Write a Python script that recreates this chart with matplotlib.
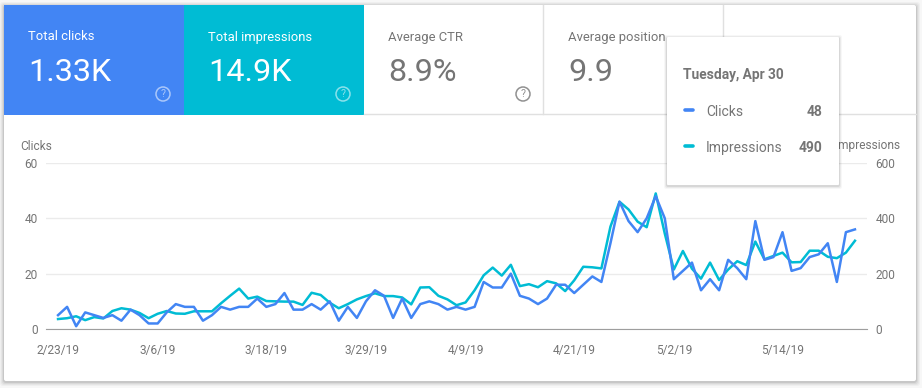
import pandas as pd
import matplotlib
matplotlib.use("Agg")
import matplotlib.pyplot as plt
from matplotlib.patches import FancyBboxPatch, Rectangle, Circle

plt.rcParams['font.family'] = ['Roboto', 'DejaVu Sans']

BLUE = '#4285F4'
TEAL = '#00BCD4'
GREY = '#757575'

clicks = [5, 8, 1, 6, 5, 4, 5, 3, 7, 5, 2, 2, 6, 9, 8, 8, 3, 5, 8, 7, 8, 8, 11, 8, 9, 13, 7, 7, 9, 7,
          10, 3, 8, 4, 10, 14, 12, 4, 11, 4, 9, 10, 9, 7, 8, 7, 8, 17, 15, 15, 20, 12, 11, 9, 11, 16, 16, 13, 16, 19,
          17, 31, 46, 39, 35, 40, 48, 40, 18, 21, 24, 14, 18, 14, 25, 22, 18, 39, 25, 26, 35, 21, 22, 26, 27, 31, 17, 35, 36]
impressions = [36, 39, 46, 32, 43, 38, 65, 75, 70, 58, 39, 55, 65, 56, 55, 64, 64, 64, 93, 120, 146, 110, 117, 101, 100, 99, 99, 87, 131, 123,
               95, 75, 90, 107, 119, 129, 119, 119, 114, 89, 150, 151, 120, 107, 86, 96, 140, 194, 222, 193, 232, 155, 162, 151, 173, 165, 137, 176, 225, 223,
               219, 370, 460, 432, 388, 368, 490, 345, 215, 282, 218, 182, 240, 177, 215, 245, 231, 316, 252, 264, 276, 241, 242, 283, 283, 261, 256, 276, 319]
dates = pd.date_range('2019-02-23', periods=len(clicks))

tick_dates = ['2019-02-23', '2019-03-06', '2019-03-18', '2019-03-29', '2019-04-09', '2019-04-21', '2019-05-02', '2019-05-14']
tick_labels = ['2/23/19', '3/6/19', '3/18/19', '3/29/19', '4/9/19', '4/21/19', '5/2/19', '5/14/19']
clicks_ticks = [0, 20, 40, 60]
impr_ticks = [0, 200, 400, 600]

W, H = 922, 388
fig = plt.figure(figsize=(W / 100, H / 100), dpi=100, facecolor='#f7f7f7')

# card and tiles, in pixel coordinates
bg = fig.add_axes([0, 0, 1, 1], zorder=0)
bg.set_xlim(0, W)
bg.set_ylim(H, 0)
bg.axis('off')

for grow, a in [(4, 0.03), (3, 0.04), (2, 0.05), (1, 0.08)]:
    bg.add_patch(FancyBboxPatch((4 - grow, 5 - grow + 1), 912 + 2 * grow, 376 + 2 * grow,
                                boxstyle='round,pad=0,rounding_size=3', fc='black', ec='none', alpha=a))
bg.add_patch(FancyBboxPatch((4, 5), 912, 376, boxstyle='round,pad=0,rounding_size=2', fc='white', ec='none'))
bg.add_patch(Rectangle((4, 5), 180, 110, fc=BLUE, ec='none'))
bg.add_patch(Rectangle((184, 5), 180, 110, fc=TEAL, ec='none'))
bg.plot([364, 916], [114, 114], color='#e0e0e0', lw=1)
bg.plot([543, 543], [5, 114], color='#e0e0e0', lw=1)
bg.plot([723, 723], [5, 114], color='#e0e0e0', lw=1)

tiles = [(28, 'Total clicks', '1.33K', 'white'), (208, 'Total impressions', '14.9K', 'white'),
         (388, 'Average CTR', '8.9%', GREY), (568, 'Average position', '9.9', GREY)]
for x, name, value, col in tiles:
    bg.text(x, 37, name, color=col, fontsize=9.4, va='center', ha='left')
    bg.text(x, 72.5, value, color=col, fontsize=23.3, va='center', ha='left')

for x, col, a in [(163, 'white', 0.55), (343, 'white', 0.55), (523, '#757575', 0.8)]:
    bg.add_patch(Circle((x, 94), 7, fc='none', ec=col, lw=1.1, alpha=a))
    bg.text(x, 94.3, '?', color=col, alpha=a, fontsize=7.5, ha='center', va='center')

bg.text(20.5, 146, 'Clicks', color=GREY, fontsize=8.6, va='center', ha='left')
bg.text(900, 146, 'Impressions', color=GREY, fontsize=8.6, va='center', ha='right')

# chart
ax = fig.add_axes([46 / W, 1 - 329 / H, 821 / W, 166 / H], zorder=2)
ax2 = ax.twinx()
ax.set_zorder(3)
ax2.set_zorder(2)
ax.patch.set_visible(False)
ax2.patch.set_visible(False)

ax2.plot(dates, impressions, color=TEAL, lw=1.8)
ax.plot(dates, clicks, color=BLUE, lw=1.8)

pad = pd.Timedelta(days=1.33)
ax.set_xlim(dates[0] - pad, dates[-1] + pad)
ax.set_ylim(0, 60)
ax2.set_ylim(0, 600)
ax.set_yticks(clicks_ticks)
ax2.set_yticks(impr_ticks)
ax.set_xticks(pd.to_datetime(tick_dates))
ax.set_xticklabels(tick_labels)
# grid goes on the lower axes so it stays behind both lines
ax2.grid(axis='y', color='#ebebeb', lw=1)
ax2.set_axisbelow(True)
ax.tick_params(axis='both', length=0, labelcolor=GREY, labelsize=8.6)
ax.tick_params(axis='x', pad=11)
ax.tick_params(axis='y', pad=6)
ax2.tick_params(axis='y', length=0, labelcolor=GREY, labelsize=8.6, pad=6)
for a in (ax, ax2):
    for s in ['top', 'left', 'right']:
        a.spines[s].set_visible(False)
ax.spines['bottom'].set_color('#9e9e9e')
ax2.spines['bottom'].set_visible(False)

# tooltip on top of everything
top = fig.add_axes([0, 0, 1, 1], zorder=5)
top.set_xlim(0, W)
top.set_ylim(H, 0)
top.axis('off')
top.patch.set_visible(False)
for grow, a in [(3, 0.03), (2, 0.05), (1, 0.08)]:
    top.add_patch(FancyBboxPatch((667 - grow, 37 - grow + 1), 172 + 2 * grow, 148 + 2 * grow,
                                 boxstyle='round,pad=0,rounding_size=2', fc='black', ec='none', alpha=a))
top.add_patch(FancyBboxPatch((667, 37), 172, 148, boxstyle='round,pad=0,rounding_size=1', fc='white', ec='none'))
top.text(683, 75.5, 'Tuesday, Apr 30', color=GREY, fontsize=9.9, fontweight='bold', va='center', ha='left')
for y, name, num, col in [(112, 'Clicks', '48', BLUE), (148, 'Impressions', '490', TEAL)]:
    top.plot([684.5, 692.5], [y - 2, y - 2], color=col, lw=2.6, solid_capstyle='round')
    top.text(706, y, name, color=GREY, fontsize=10, va='center', ha='left')
    top.text(822.5, y, num, color=GREY, fontsize=10, fontweight='bold', va='center', ha='right')

fig.savefig('out.png', dpi=100, facecolor=fig.get_facecolor())
